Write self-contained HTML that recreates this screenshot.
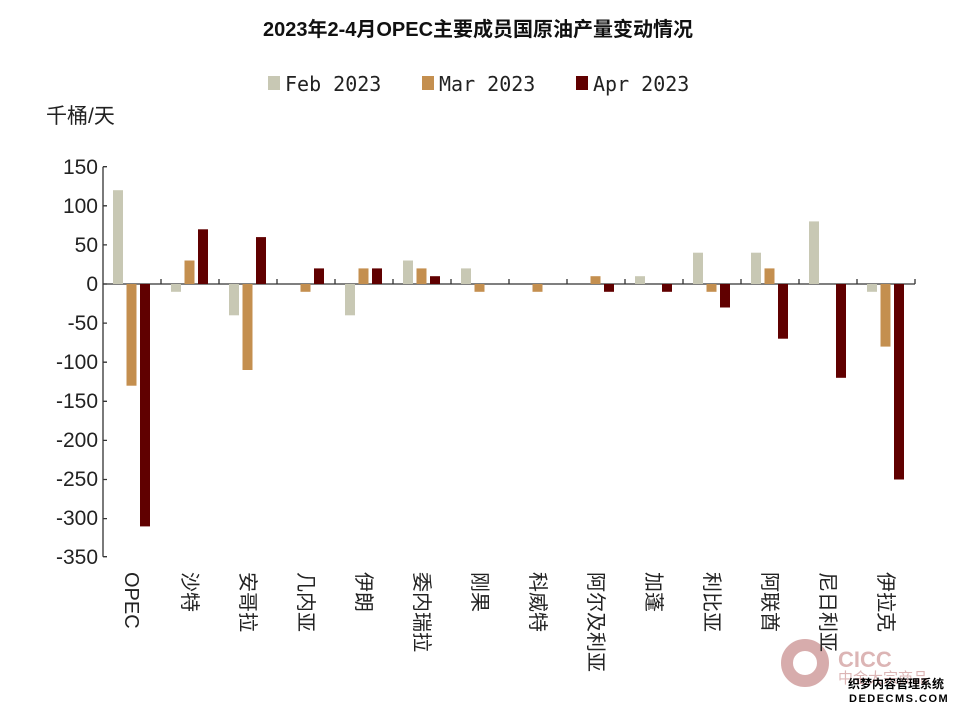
<!DOCTYPE html>
<html><head><meta charset="utf-8"><style>
body{margin:0;background:#fff}
svg{display:block;font-family:"Liberation Sans","Noto Sans CJK SC",sans-serif}
</style></head><body>
<svg width="957" height="710" viewBox="0 0 957 710" xmlns="http://www.w3.org/2000/svg">
<rect width="957" height="710" fill="#fff"/>
<text x="478" y="36" text-anchor="middle" font-size="20" font-weight="bold" fill="#111">2023年2-4月OPEC主要成员国原油产量变动情况</text>
<g font-family="'DejaVu Sans Mono','Liberation Mono',monospace" font-size="20" fill="#222">
<rect x="268" y="76" width="12" height="14" fill="#c8c8b4"/><text x="285" y="91">Feb 2023</text>
<rect x="422" y="76" width="12" height="14" fill="#c48f4f"/><text x="439" y="91">Mar 2023</text>
<rect x="576" y="76" width="12" height="14" fill="#600000"/><text x="593" y="91">Apr 2023</text>
</g>
<text x="46" y="123" font-size="21" fill="#222">千桶/天</text>
<g font-size="21" fill="#222" text-anchor="end">
<text x="98" y="174">150</text><text x="98" y="213">100</text><text x="98" y="252">50</text><text x="98" y="291">0</text>
<text x="98" y="330">-50</text><text x="98" y="369">-100</text><text x="98" y="408">-150</text><text x="98" y="447">-200</text>
<text x="98" y="486">-250</text><text x="98" y="525">-300</text><text x="98" y="564">-350</text>
</g>
<g stroke="#333" stroke-width="1.3" fill="none">
<line x1="103" y1="166.7" x2="103" y2="556.7"/>
<line x1="103" y1="284" x2="915" y2="284"/>
<path d="M103 166.7h4M103 205.8h4M103 244.9h4M103 284h4M103 323.1h4M103 362.2h4M103 401.3h4M103 440.4h4M103 479.5h4M103 518.6h4M103 556.7h4"/>
<path d="M161 284v-5M219 284v-5M277 284v-5M335 284v-5M393 284v-5M451 284v-5M509 284v-5M567 284v-5M625 284v-5M683 284v-5M741 284v-5M799 284v-5M857 284v-5M915 284v-5"/>
</g>
<g fill="#c8c8b4">
<rect x="113" y="190.2" width="10" height="93.8"/>
<rect x="171" y="284" width="10" height="7.8"/>
<rect x="229" y="284" width="10" height="31.3"/>
<rect x="345" y="284" width="10" height="31.3"/>
<rect x="403" y="260.5" width="10" height="23.5"/>
<rect x="461" y="268.4" width="10" height="15.6"/>
<rect x="635" y="276.2" width="10" height="7.8"/>
<rect x="693" y="252.7" width="10" height="31.3"/>
<rect x="751" y="252.7" width="10" height="31.3"/>
<rect x="809" y="221.4" width="10" height="62.6"/>
<rect x="867" y="284" width="10" height="7.8"/>
</g>
<g fill="#c48f4f">
<rect x="126.5" y="284" width="10" height="101.7"/>
<rect x="184.5" y="260.5" width="10" height="23.5"/>
<rect x="242.5" y="284" width="10" height="86"/>
<rect x="300.5" y="284" width="10" height="7.8"/>
<rect x="358.5" y="268.4" width="10" height="15.6"/>
<rect x="416.5" y="268.4" width="10" height="15.6"/>
<rect x="474.5" y="284" width="10" height="7.8"/>
<rect x="532.5" y="284" width="10" height="7.8"/>
<rect x="590.5" y="276.2" width="10" height="7.8"/>
<rect x="706.5" y="284" width="10" height="7.8"/>
<rect x="764.5" y="268.4" width="10" height="15.6"/>
<rect x="880.5" y="284" width="10" height="62.6"/>
</g>
<g fill="#600000">
<rect x="140" y="284" width="10" height="242.4"/>
<rect x="198" y="229.3" width="10" height="54.7"/>
<rect x="256" y="237.1" width="10" height="46.9"/>
<rect x="314" y="268.4" width="10" height="15.6"/>
<rect x="372" y="268.4" width="10" height="15.6"/>
<rect x="430" y="276.2" width="10" height="7.8"/>
<rect x="604" y="284" width="10" height="7.8"/>
<rect x="662" y="284" width="10" height="7.8"/>
<rect x="720" y="284" width="10" height="23.5"/>
<rect x="778" y="284" width="10" height="54.7"/>
<rect x="836" y="284" width="10" height="93.8"/>
<rect x="894" y="284" width="10" height="195.5"/>
</g>
<g opacity="0.55">
<circle cx="805" cy="663" r="18" fill="none" stroke="#b86a6a" stroke-width="12"/>
<text x="838" y="667" font-size="22" font-weight="bold" fill="#c07a7a">CICC</text>
<text x="838" y="683" font-size="15" fill="#c07a7a">中金大宗商品</text>
</g>
<text x="848" y="688" font-size="12" font-weight="bold" fill="#000">织梦内容管理系统</text>
<text x="849" y="702" font-size="11" font-weight="bold" fill="#000" letter-spacing="1.5">DEDECMS.COM</text>
<g font-size="20" fill="#222" dominant-baseline="central">
<text transform="translate(131,572) rotate(90)">OPEC</text>
<text transform="translate(189,572) rotate(90)">沙特</text>
<text transform="translate(247,572) rotate(90)">安哥拉</text>
<text transform="translate(305,572) rotate(90)">几内亚</text>
<text transform="translate(363,572) rotate(90)">伊朗</text>
<text transform="translate(421,572) rotate(90)">委内瑞拉</text>
<text transform="translate(479,572) rotate(90)">刚果</text>
<text transform="translate(537,572) rotate(90)">科威特</text>
<text transform="translate(595,572) rotate(90)">阿尔及利亚</text>
<text transform="translate(653,572) rotate(90)">加蓬</text>
<text transform="translate(711,572) rotate(90)">利比亚</text>
<text transform="translate(769,572) rotate(90)">阿联酋</text>
<text transform="translate(827,572) rotate(90)">尼日利亚</text>
<text transform="translate(885,572) rotate(90)">伊拉克</text>
</g>
</svg>
</body></html>
